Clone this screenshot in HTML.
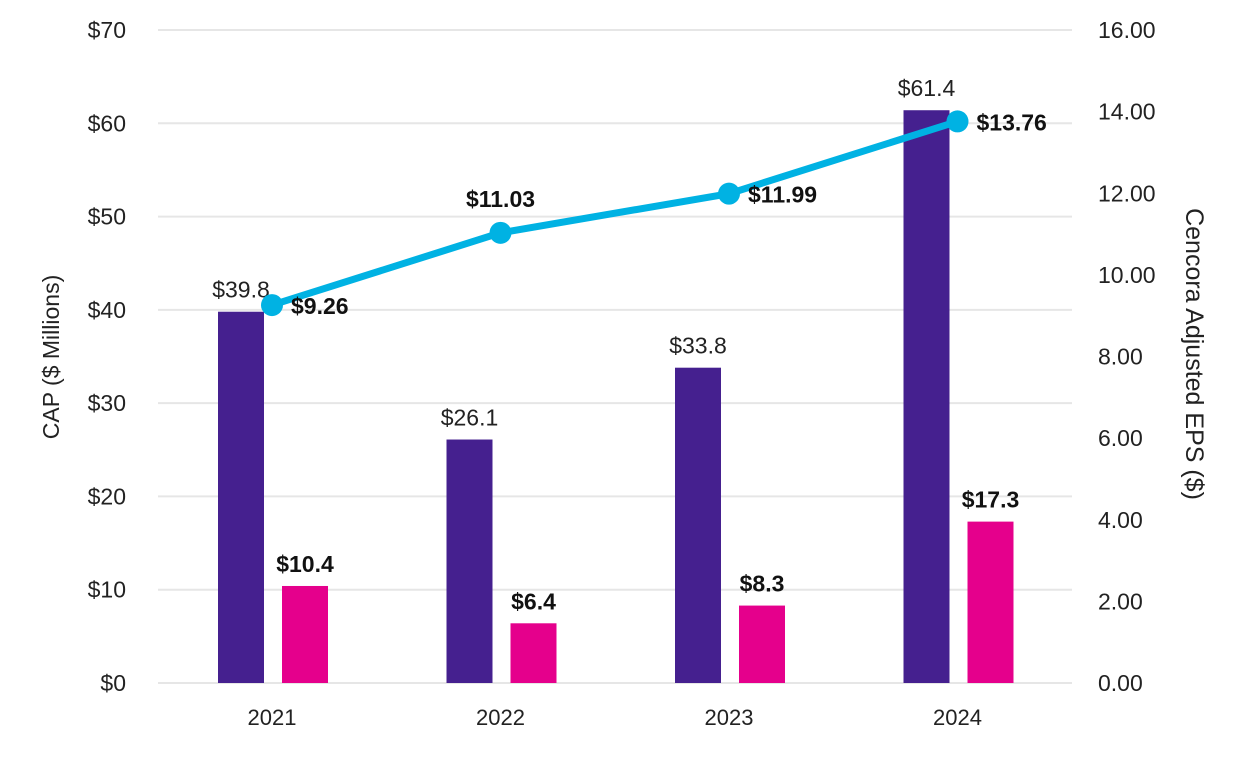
<!DOCTYPE html>
<html><head><meta charset="utf-8"><style>
body{margin:0;background:#fff;font-family:"Liberation Sans",sans-serif;}
svg text{font-family:"Liberation Sans",sans-serif;}
</style></head><body>
<svg id="c" width="1248" height="760" xmlns="http://www.w3.org/2000/svg"></svg>
<script>
const categories=["2021","2022","2023","2024"];
const capValues=[39.8,26.1,33.8,61.4];
const pinkValues=[10.4,6.4,8.3,17.3];
const epsValues=[9.26,11.03,11.99,13.76];
const leftTicks=[0,10,20,30,40,50,60,70];
const rightTicks=[0,2,4,6,8,10,12,14,16];

const NS="http://www.w3.org/2000/svg";
const svg=document.getElementById('c');
const y0=683,yTop=30;
const yL=v=>y0-(v/70)*(y0-yTop);
const yR=v=>y0-(v/16)*(y0-yTop);
const xC=i=>272+i*228.5;
function mk(tag,attrs,txt){const e=document.createElementNS(NS,tag);for(const k in attrs)e.setAttribute(k,attrs[k]);if(txt!==undefined)e.textContent=txt;svg.appendChild(e);return e;}

leftTicks.forEach(t=>{
 const l=mk('line',{x1:158,x2:1072,y1:yL(t),y2:yL(t),stroke:'#e6e6e6','stroke-width':2});
 
 
 const tx=mk('text',{x:126,y:yL(t)+8,'text-anchor':'end','font-size':23,fill:'#222'},'$'+t);
 
 
});
rightTicks.forEach(t=>{
 const tx=mk('text',{x:1098,y:yR(t)+8,'font-size':23,fill:'#222'},t.toFixed(2));
 
 
});
categories.forEach((c,i)=>{
 const tx=mk('text',{x:xC(i),y:725,'text-anchor':'middle','font-size':22,fill:'#222'},c);
 
 
 const b=mk('rect',{x:xC(i)-54,y:yL(capValues[i]),width:46,height:y0-yL(capValues[i]),fill:'#45208f'});
 
 
 const bl=mk('text',{x:xC(i)-31,y:yL(capValues[i])-14,'text-anchor':'middle','font-size':23,fill:'#222'},'$'+capValues[i].toFixed(1));
 
 
 const p=mk('rect',{x:xC(i)+10,y:yL(pinkValues[i]),width:46,height:y0-yL(pinkValues[i]),fill:'#e5008c'});
 
 
 const pl=mk('text',{x:xC(i)+33,y:yL(pinkValues[i])-14,'text-anchor':'middle','font-size':23,'font-weight':'bold',fill:'#111'},'$'+pinkValues[i].toFixed(1));
 
 
});
const pts=epsValues.map((v,i)=>xC(i)+','+yR(v)).join(' ');
const line=mk('polyline',{points:pts,fill:'none',stroke:'#00b2e3','stroke-width':7});


epsValues.forEach((v,i)=>{
 const d=mk('circle',{cx:xC(i),cy:yR(v),r:11,fill:'#00b2e3'});
 
 
 const above=(i===1);
 const t=mk('text',{x:above?xC(i):xC(i)+19,y:above?yR(v)-26:yR(v)+9,'text-anchor':above?'middle':'start','font-size':23,'font-weight':'bold',fill:'#111'},'$'+v.toFixed(2));
 
 
});
const lt=mk('text',{x:0,y:0,transform:'translate(59,357) rotate(-90)','text-anchor':'middle','font-size':23,fill:'#222'},'CAP ($ Millions)');


const rt=mk('text',{x:0,y:0,transform:'translate(1186,354) rotate(90)','text-anchor':'middle','font-size':25,fill:'#222'},'Cencora Adjusted EPS ($)');


</script>
</body></html>
